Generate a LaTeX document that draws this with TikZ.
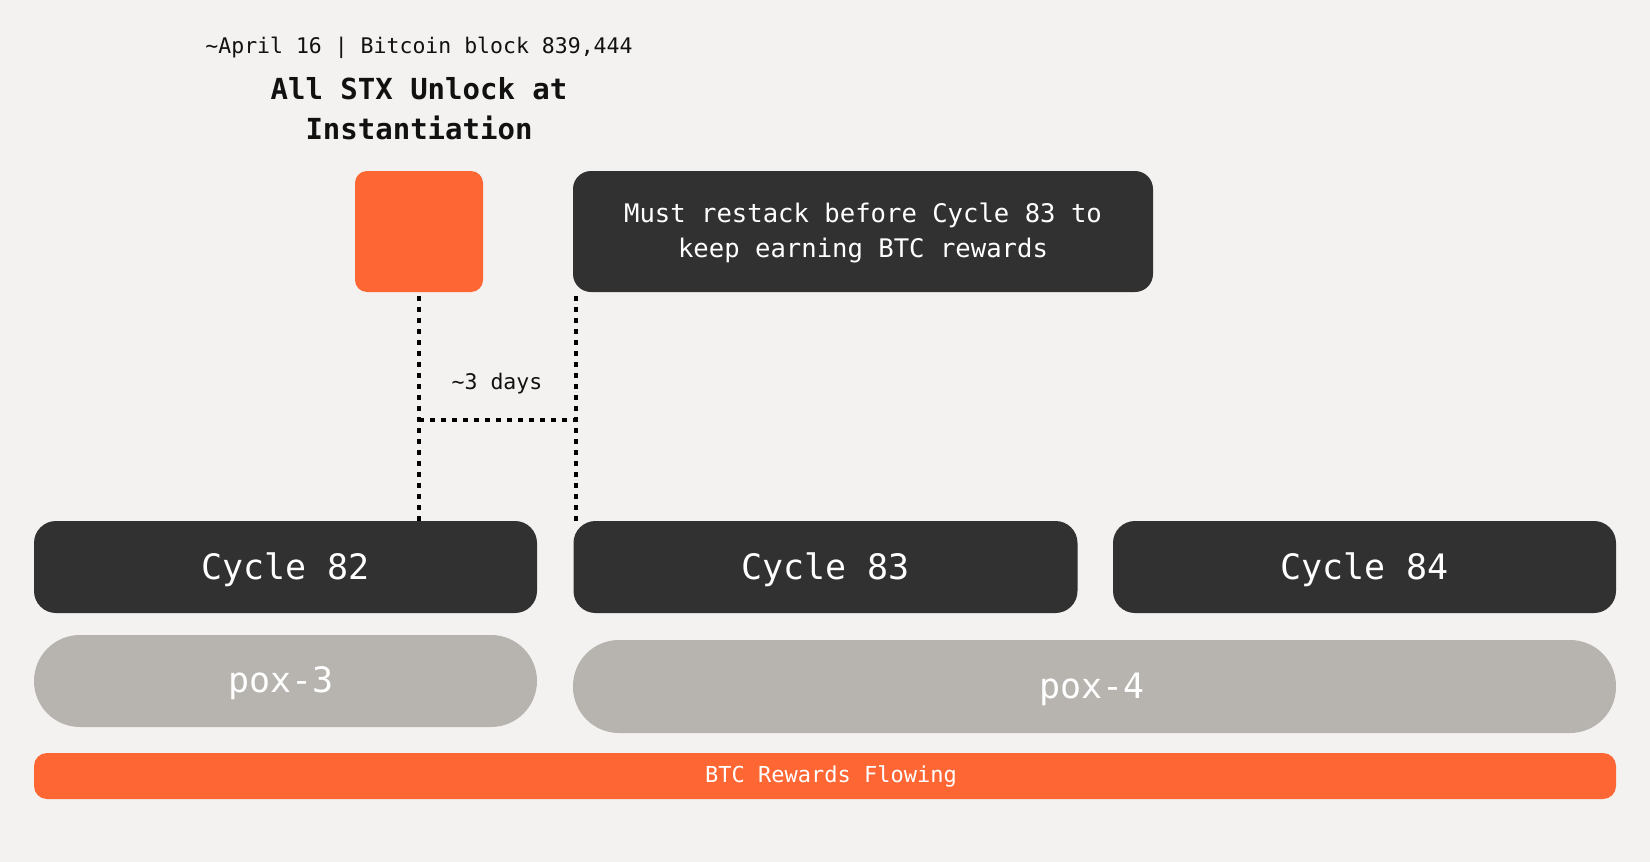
\documentclass[tikz,border=0pt]{standalone}
\usepackage{fontspec}
\setmainfont{DejaVu Sans Mono}
\usetikzlibrary{calc}
\definecolor{bgc}{HTML}{F3F2F0}
\definecolor{darkc}{HTML}{313131}
\definecolor{orangec}{HTML}{FE6634}
\definecolor{greyc}{HTML}{B7B4AF}
\definecolor{inkc}{HTML}{111111}
\tikzset{
  box/.style={inner sep=0pt, outer sep=0pt, text=white, align=center},
  darkbox/.style={box, fill=darkc, rounded corners=22pt},
  cyclebox/.style={darkbox, minimum width=503pt, minimum height=92pt},
  poxbox/.style={box, fill=greyc, rounded corners=46pt},
  bigtxt/.style={box, font=\fontsize{35}{40}\selectfont},
  dotline/.style={draw=black, line width=4.5pt, dash pattern=on 4.5pt off 6.5pt},
  lbl/.style={text=inkc, inner sep=0pt, align=center}
}
\begin{document}
\begin{tikzpicture}[x=1pt,y=-1pt]
\fill[bgc] (0,0) rectangle (1650,862);
\useasboundingbox (0,0) rectangle (1650,862);

% top labels
\node[lbl, font=\fontsize{21.5}{26}\selectfont] (date) at (419,48) {\textasciitilde April 16 | Bitcoin block 839,444};
\node[lbl, font=\fontsize{29}{40}\selectfont\bfseries] (title) at (419,109) {All STX Unlock at\\Instantiation};

% top boxes
\node[box, fill=orangec, rounded corners=12pt, minimum width=128pt, minimum height=121pt] (sq) at (419,231.5) {};
\node[darkbox, rounded corners=18pt, minimum width=580pt, minimum height=121pt] (note) at (863,231.5) {};
\node[box, font=\fontsize{25.6}{35.5}\selectfont] (notetxt) at (863,233) {Must restack before Cycle 83 to\\keep earning BTC rewards};

% cycles
\node[cyclebox] (c82) at (285.5,567) {};
\node[cyclebox, minimum width=504pt] (c83) at (825.5,567) {};
\node[cyclebox] (c84) at (1364.5,567) {};
\node[bigtxt] (t82) at (285.5,570) {Cycle 82};
\node[bigtxt] (t83) at (825.5,570) {Cycle 83};
\node[bigtxt] (t84) at (1364.5,570) {Cycle 84};

% pox
\node[poxbox, minimum width=503pt, minimum height=92pt] (pox3) at (285.5,681) {};
\node[poxbox, minimum width=1043pt, minimum height=93pt] (pox4) at (1094.5,686.5) {};
\node[bigtxt] (p3) at (281,683) {pox-3};
\node[bigtxt] (p4) at (1092,689) {pox-4};

% rewards bar
\node[box, fill=orangec, rounded corners=13pt, minimum width=1582pt, minimum height=46pt] (bar) at (825,776) {};
\node[box, font=\fontsize{22}{26}\selectfont] (barlbl) at (831,776) {BTC Rewards Flowing};

% dotted connectors
\coordinate (a1) at ([yshift=-4pt]sq.south);
\coordinate (a2) at (a1 |- c82.north);
\coordinate (b1) at ([xshift=3pt,yshift=-4pt]note.south west);
\coordinate (b2) at (b1 |- c83.north);
\coordinate (m1) at (a1 |- 0,420);
\coordinate (m2) at (b1 |- 0,420);
\draw[dotline] (a1) -- (a2);
\draw[dotline] (b1) -- (b2);
\draw[dotline] (m1) -- (m2);
\node[lbl, font=\fontsize{21.5}{26}\selectfont] (days) at (497,384) {\textasciitilde3 days};
\end{tikzpicture}
\end{document}
